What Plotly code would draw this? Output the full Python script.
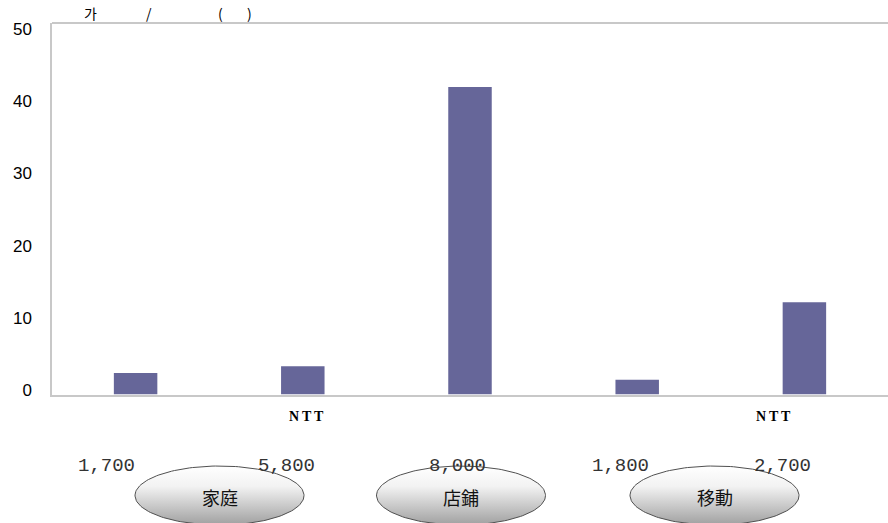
import numpy as np
import plotly.graph_objects as go

W, H = 888, 523
# ---- data ----
categories = ["c1", "c2", "c3", "c4", "c5"]
values = [2.9, 3.8, 41.4, 2.0, 12.4]
cat_labels = ["", "NTT", "", "", "NTT"]
sub_values = ["1,700", "5,800", "8,000", "1,800", "2,700"]
groups = ["家庭", "店鋪", "移動"]
y_ticks = [0, 10, 20, 30, 40, 50]
title_parts = ["가", "/", "(", ")"]

# ---- layout geometry (pixels) ----
PL, PR, PT, PB = 52, 888, 23, 394.5
xdom = [PL / W, PR / W]
ydom = [1 - PB / H, 1 - PT / H]

fig = go.Figure()
fig.add_trace(go.Bar(x=categories, y=values, marker=dict(color="#666699", line=dict(width=0)),
                     width=0.26, showlegend=False, hoverinfo="skip"))
# invisible trace carrying the label axis
fig.add_trace(go.Scatter(x=categories, y=[None] * 5, yaxis="y2", showlegend=False,
                         hoverinfo="skip", mode="markers"))

# ellipses with vertical gradient, in pixel-space axes
ell_centers = [219.5, 461, 714.5]
ell_rx, ell_ry, ell_cy = 84.5, 29.5, 495.5
t = np.linspace(0, 2 * np.pi, 160)
for cx, g in zip(ell_centers, groups):
    xs = cx + ell_rx * np.cos(t)
    ys = ell_cy + ell_ry * np.sin(t)
    fig.add_trace(go.Scatter(
        x=xs, y=ys, xaxis="x3", yaxis="y3", mode="lines", fill="toself",
        line=dict(color="#505050", width=1),
        fillgradient=dict(type="vertical",
                          colorscale=[[0, "#ffffff"], [0.35, "#f2f2f2"], [1, "#a0a0a0"]],
                          start=ell_cy - ell_ry, stop=ell_cy + ell_ry),
        showlegend=False, hoverinfo="skip", cliponaxis=False))
    fig.add_annotation(x=cx, y=ell_cy + 1.5, xref="x3", yref="y3", text=g, showarrow=False,
                       yanchor="middle",
                       font=dict(family="Noto Sans CJK JP", size=18, color="#111111"))

# y2 range so labels line up like the reference
slope = 50 / (390 - 29)
y2_range = [0 - (PB - 390) * slope, 50 + (29 - PT) * slope]

fig.update_layout(
    width=W, height=H, margin=dict(l=0, r=0, t=0, b=0, autoexpand=False),
    paper_bgcolor="white", plot_bgcolor="rgba(0,0,0,0)",
    xaxis=dict(domain=xdom, type="category", showticklabels=False, showgrid=False,
               showline=True, linecolor="#c8c8c8", linewidth=2, ticks="", zeroline=False),
    yaxis=dict(domain=ydom, range=[0, 50], showticklabels=False, showgrid=False,
               showline=True, linecolor="#c8c8c8", linewidth=2, ticks="", zeroline=False),
    yaxis2=dict(overlaying="y", side="left", range=y2_range, tickvals=y_ticks,
                showgrid=False, showline=False, zeroline=False, ticks="",
                ticklabelstandoff=19,
                tickfont=dict(family="Liberation Sans", size=17, color="#000000")),
    xaxis3=dict(domain=[0, 1], range=[0, W], visible=False, anchor="y3"),
    yaxis3=dict(domain=[0, 1], range=[H, 0], visible=False, anchor="x3"),
)

# top border line
fig.add_shape(type="line", xref="paper", yref="paper", x0=xdom[0], x1=1, y0=ydom[1], y1=ydom[1],
              line=dict(color="#c8c8c8", width=2))

# category labels (NTT)
ntt_shift = [0, 3.5, 0, 0, -31]
for c, lab, s in zip(categories, cat_labels, ntt_shift):
    if lab:
        fig.add_annotation(x=c, xref="x", y=1 - 416.5 / H, yref="paper",
                           text="<b>" + "\u2009".join(lab) + "</b>",
                           showarrow=False, xshift=s, yanchor="middle",
                           font=dict(family="Liberation Serif", size=14, color="#000000"))

# sub values
num_shift = [-29, -16, -12.5, -17, -22]
for c, v, s in zip(categories, sub_values, num_shift):
    fig.add_annotation(x=c, xref="x", y=1 - 466 / H, yref="paper", text=v, showarrow=False,
                       xshift=s, yanchor="middle",
                       font=dict(family="Liberation Mono", size=19, color="#333333"))

# garbled title pieces
title_x = [90.5, 149, 220, 249]
for p, x in zip(title_parts, title_x):
    fig.add_annotation(x=x, y=13, xref="x3", yref="y3", text=p, showarrow=False,
                       yanchor="middle",
                       font=dict(family="Noto Sans CJK KR", size=14, color="#000000"))

fig.write_html("out.html")
